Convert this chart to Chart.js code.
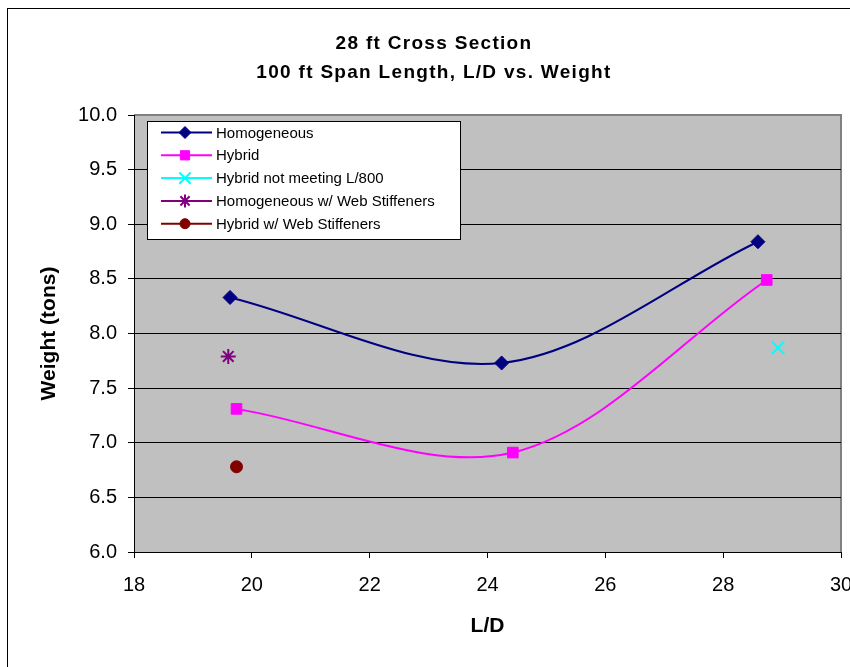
<!DOCTYPE html>
<html>
<head>
<meta charset="utf-8">
<script src="https://cdn.jsdelivr.net/npm/chart.js@4.4.0/dist/chart.umd.min.js"></script>
<style>
html, body { margin: 0; padding: 0; background: #fff; overflow: hidden; }
canvas { display: block; }
</style>
</head>
<body>
<canvas id="myChart" width="850" height="667"></canvas>
<script>
// values
var homoX = [19.63, 24.24, 28.59];
var homoY = [8.33, 7.73, 8.84];
var hybridX = [19.74, 24.43, 28.74];
var hybridY = [7.31, 6.91, 8.49];
var l800X = [28.93];
var l800Y = [7.87];
var homoStiffX = [19.6];
var homoStiffY = [7.79];
var hybridStiffX = [19.74];
var hybridStiffY = [6.78];

var titleLines = ["28 ft Cross Section", "100 ft Span Length, L/D vs. Weight"];
var seriesNames = ["Homogeneous", "Hybrid", "Hybrid not meeting L/800",
    "Homogeneous w/ Web Stiffeners", "Hybrid w/ Web Stiffeners"];

var FONT = "'Liberation Sans', Arial, sans-serif";

function toPoints(xs, ys) {
    return xs.map(function (x, i) { return { x: x, y: ys[i] }; });
}

// background, frame, title and legend box
var excelLook = {
    id: 'excelLook',
    beforeDraw: function (chart) {
        var ctx = chart.ctx, a = chart.chartArea;
        ctx.save();
        ctx.fillStyle = '#fff';
        ctx.fillRect(0, 0, chart.width, chart.height);
        ctx.strokeStyle = '#000';
        ctx.lineWidth = 1;
        ctx.strokeRect(7.5, 8.5, 900, 700);
        ctx.fillStyle = '#C0C0C0';
        ctx.fillRect(a.left, a.top, a.right - a.left, a.bottom - a.top);
        ctx.strokeStyle = '#808080';
        ctx.lineWidth = 2;
        ctx.beginPath();
        ctx.moveTo(a.left, a.top);
        ctx.lineTo(a.right, a.top);
        ctx.lineTo(a.right, a.bottom);
        ctx.stroke();
        ctx.restore();
    },
    afterDraw: function (chart) {
        var ctx = chart.ctx;
        ctx.save();
        // title
        ctx.fillStyle = '#000';
        ctx.font = 'bold 19px ' + FONT;
        ctx.letterSpacing = '1.3px';
        ctx.textAlign = 'center';
        ctx.textBaseline = 'middle';
        ctx.fillText(titleLines[0], 434, 44);
        ctx.fillText(titleLines[1], 434, 73);
        ctx.letterSpacing = '0px';

        // legend
        var bx = 147.5, by = 121.5, bw = 313, bh = 118;
        ctx.fillStyle = '#fff';
        ctx.fillRect(bx, by, bw, bh);
        ctx.strokeStyle = '#000';
        ctx.lineWidth = 1;
        ctx.strokeRect(bx, by, bw, bh);
        ctx.font = '15px ' + FONT;
        ctx.textAlign = 'left';
        ctx.textBaseline = 'middle';
        chart.data.datasets.forEach(function (ds, i) {
            var y = 132.5 + i * 22.8;
            ctx.strokeStyle = ds.borderColor;
            ctx.lineWidth = 2;
            ctx.beginPath();
            ctx.moveTo(161, y);
            ctx.lineTo(212, y);
            ctx.stroke();
            ctx.fillStyle = ds.pointBackgroundColor;
            ctx.strokeStyle = ds.pointBorderColor;
            ctx.lineWidth = ds.pointBorderWidth;
            Chart.helpers.drawPoint(ctx, {
                pointStyle: ds.pointStyle,
                radius: ds.legendRadius,
                rotation: 0,
                borderWidth: ds.pointBorderWidth
            }, 185, y);
            ctx.fillStyle = '#000';
            ctx.fillText(ds.label, 216, y + 1);
        });
        ctx.restore();
    }
};

var ctx = document.getElementById('myChart');

new Chart(ctx, {
    type: 'scatter',
    data: {
        datasets: [{
            label: seriesNames[0],
            data: toPoints(homoX, homoY),
            showLine: true,
            tension: 0.33,
            borderColor: '#000080',
            borderWidth: 2,
            pointStyle: 'rectRot',
            pointRadius: 7,
            legendRadius: 6,
            pointBackgroundColor: '#000080',
            pointBorderColor: '#000080',
            pointBorderWidth: 1
        }, {
            label: seriesNames[1],
            data: toPoints(hybridX, hybridY),
            showLine: true,
            tension: 0.33,
            borderColor: '#FF00FF',
            borderWidth: 2,
            pointStyle: 'rect',
            pointRadius: 7.5,
            legendRadius: 6.5,
            pointBackgroundColor: '#FF00FF',
            pointBorderColor: '#FF00FF',
            pointBorderWidth: 1
        }, {
            label: seriesNames[2],
            data: toPoints(l800X, l800Y),
            borderColor: '#00FFFF',
            pointStyle: 'crossRot',
            pointRadius: 9,
            legendRadius: 8,
            pointBackgroundColor: '#00FFFF',
            pointBorderColor: '#00FFFF',
            pointBorderWidth: 2
        }, {
            label: seriesNames[3],
            data: toPoints(homoStiffX, homoStiffY),
            borderColor: '#800080',
            pointStyle: 'star',
            pointRadius: 7.5,
            legendRadius: 6.5,
            pointBackgroundColor: '#800080',
            pointBorderColor: '#800080',
            pointBorderWidth: 2
        }, {
            label: seriesNames[4],
            data: toPoints(hybridStiffX, hybridStiffY),
            borderColor: '#800000',
            pointStyle: 'circle',
            pointRadius: 6,
            legendRadius: 5,
            pointBackgroundColor: '#800000',
            pointBorderColor: '#800000',
            pointBorderWidth: 1
        }]
    },
    options: {
        responsive: false,
        animation: false,
        devicePixelRatio: 1,
        layout: {
            autoPadding: false,
            padding: { left: 37, right: 9, top: 115, bottom: 28 }
        },
        plugins: {
            legend: { display: false },
            title: { display: false },
            tooltip: { enabled: false }
        },
        scales: {
            x: {
                type: 'linear',
                min: 18,
                max: 30,
                ticks: {
                    stepSize: 2,
                    color: '#000',
                    padding: 15,
                    maxRotation: 0,
                    font: { family: FONT, size: 20 }
                },
                grid: {
                    drawOnChartArea: false,
                    drawTicks: true,
                    tickLength: 6,
                    tickColor: '#000'
                },
                border: { color: '#000', width: 1 },
                title: {
                    display: true,
                    text: 'L/D',
                    color: '#000',
                    padding: 0,
                    font: { family: FONT, size: 21, weight: 'bold' }
                },
                afterFit: function (s) {
                    s.height = 87;
                    // the last tick label is allowed to run off the right edge, as in the reference
                    s.paddingLeft = 0;
                    s.paddingRight = 0;
                }
            },
            y: {
                type: 'linear',
                min: 6,
                max: 10,
                ticks: {
                    stepSize: 0.5,
                    color: '#000',
                    padding: 11,
                    font: { family: FONT, size: 20 },
                    callback: function (v) { return v.toFixed(1); }
                },
                grid: {
                    color: function (c) {
                        return c.tick && c.tick.value === 10 ? 'rgba(0,0,0,0)' : '#000';
                    },
                    lineWidth: 1,
                    tickLength: 6,
                    tickColor: '#000'
                },
                border: { color: '#000', width: 1 },
                title: {
                    display: true,
                    text: 'Weight (tons)',
                    color: '#000',
                    padding: 0,
                    font: { family: FONT, size: 21, weight: 'bold' }
                },
                afterFit: function (s) {
                    s.width = 97;
                }
            }
        }
    },
    plugins: [excelLook]
});
</script>
</body>
</html>
